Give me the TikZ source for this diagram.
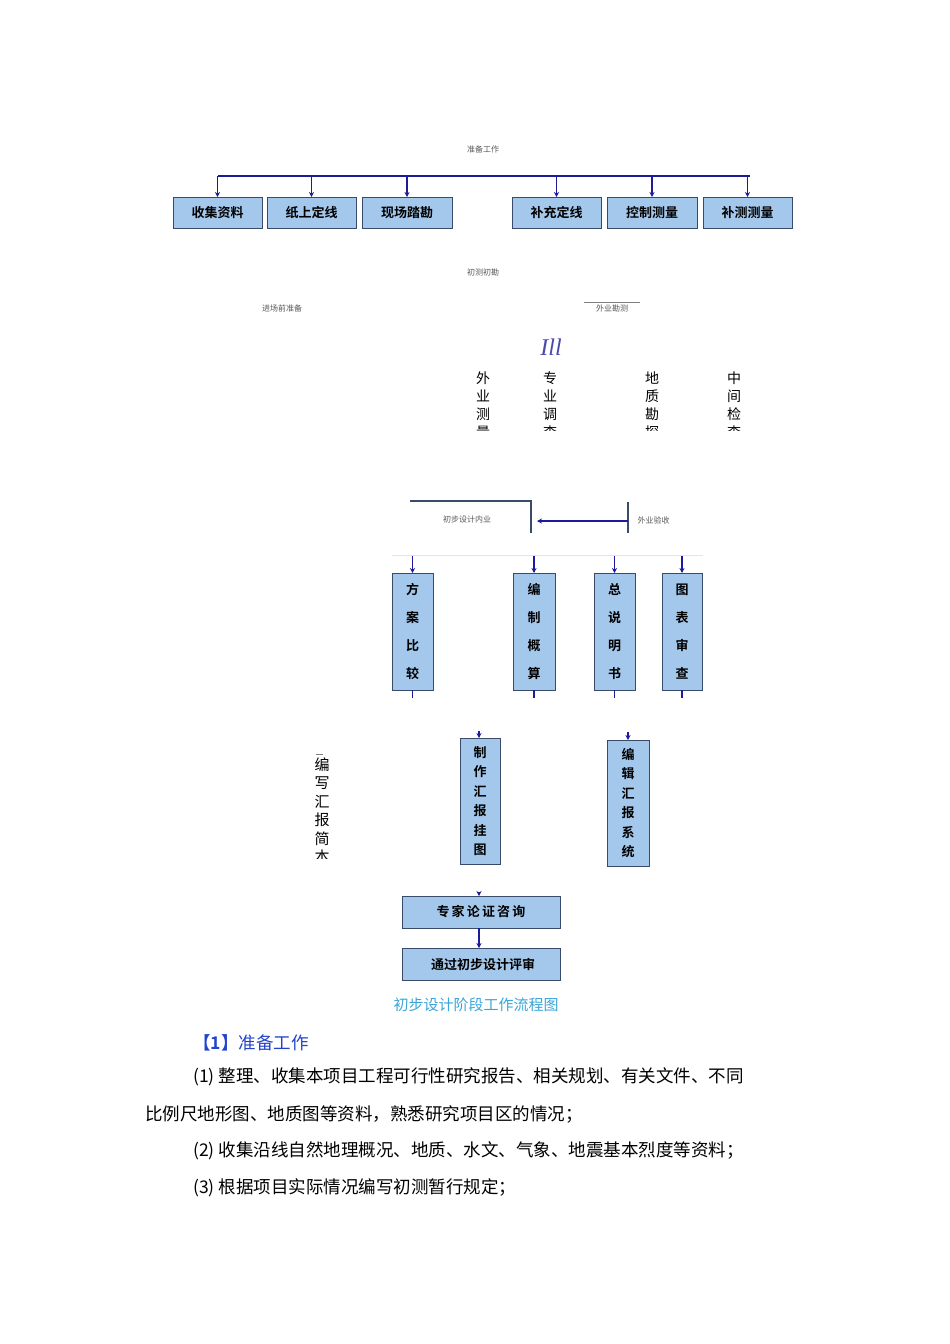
\documentclass[tikz,border=0pt]{standalone}
\usepackage{fontspec}
\usetikzlibrary{arrows.meta}
\setmainfont{Liberation Serif}
\newfontfamily\cjk{Noto Sans CJK SC}
\newfontfamily\cjkb{Noto Sans CJK SC Bold}
\definecolor{boxfill}{HTML}{A3C8EC}
\definecolor{boxline}{HTML}{3A4A6A}
\definecolor{arr}{HTML}{1C1C9A}
\definecolor{cap}{HTML}{3AA6D8}
\definecolor{hd}{HTML}{2244CC}
\begin{document}
\begin{tikzpicture}[x=1pt,y=-1pt,
  bx/.style={draw=boxline,line width=1pt,fill=boxfill,inner sep=0pt},
  btxt/.style={font=\cjkb\fontsize{13}{13}\selectfont},
  vtxt/.style={font=\cjkb\fontsize{13}{28}\selectfont,align=center,text width=14pt},
  ar/.style={draw=arr,line width=1.6pt,-{Stealth[length=5pt,width=5pt]}},
  ln/.style={draw=arr,line width=1.6pt},
  sm/.style={font=\cjk\fontsize{8}{8}\selectfont,text=gray!70!black},
  vt/.style={font=\cjk\fontsize{14}{18}\selectfont,align=center,text width=15pt,anchor=north},
  par/.style={font=\cjk\fontsize{17.5}{17.5}\selectfont,anchor=west,inner sep=0pt}]
\useasboundingbox (0,0) rectangle (950,1344);
\fill[white] (0,0) rectangle (950,1344);
% top
\node[sm] (t1) at (483,149) {准备工作};
\coordinate (hl) at (218,176); \coordinate (hr) at (750,176);
\draw[ln] (hl) -- (hr);
\foreach \n/\a/\b/\t in {b1/173/262/收集资料,b2/267/356/纸上定线,b3/362/452/现场踏勘,b4/512/601/补充定线,b5/607/697/控制测量,b6/703/792/补测测量}{
  \path[bx] (\a,197) rectangle (\b,228);
  \node[btxt] (\n) at ({(\a+\b)/2},212.5) {\t};
  \coordinate (\n t) at ({(\a+\b)/2},176);
  \draw[ar] (\n t) -- ({(\a+\b)/2},197);
}
\node[sm] (t2) at (483,272) {初测初勘};
\node[sm] (t3) at (282,308) {进场前准备};
\node[sm] (t4) at (612,308) {外业勘测};
\draw[gray] (584,302) -- (640,302);
\node[font=\itshape\fontsize{24}{24}\selectfont,text=arr!80] (ill) at (551,347) {Ill};
\begin{scope}
\clip (440,365) rectangle (800,430);
\node[vt] (v1) at (483,368) {外\\业\\测\\量};
\node[vt] (v2) at (550,368) {专\\业\\调\\查};
\node[vt] (v3) at (652,368) {地\\质\\勘\\探};
\node[vt] (v4) at (734,368) {中\\间\\检\\查};
\end{scope}
% middle
\draw[boxline,line width=1.4pt] (410,501) -- (531,501) -- (531,533);
\node[sm] (nb) at (467,519) {初步设计内业};
\draw[boxline,line width=1.4pt] (628,502) -- (628,533);
\coordinate (wy) at (628,521);
\draw[ar] (wy) -- (537,521);
\node[sm,anchor=west] (wy2) at (634,520) {外业验收};
\draw[gray!20,line width=1pt] (392,555) -- (703,555);
\foreach \n/\a/\b/\t in {c1/392/433/{方\\案\\比\\较},c2/513/555/{编\\制\\概\\算},c3/594/635/{总\\说\\明\\书},c4/662/702/{图\\表\\审\\查}}{
  \path[bx] (\a,573) rectangle (\b,690);
  \node[vtxt] (\n) at ({(\a+\b)/2},631.5) {\t};
  \coordinate (\n t) at ({(\a+\b)/2},556);
  \draw[ar] (\n t) -- ({(\a+\b)/2},573);
  \draw[ln] ({(\a+\b)/2},690) -- ({(\a+\b)/2},698);
}
\path[bx] (460,738) rectangle (500,864);
\node[vtxt,font=\cjkb\fontsize{13}{19.5}\selectfont] (d1) at (480,801) {制\\作\\汇\\报\\挂\\图};
\coordinate (d1t) at (479,731);
\draw[ar] (d1t) -- (479,738);
\path[bx] (607,740) rectangle (649,866);
\node[vtxt,font=\cjkb\fontsize{13}{19.5}\selectfont] (d2) at (628,803) {编\\辑\\汇\\报\\系\\统};
\coordinate (d2t) at (628,732);
\draw[ar] (d2t) -- (628,740);
\begin{scope}
\clip (300,752) rectangle (345,858);
\node[vt,font=\cjk\fontsize{15}{18.5}\selectfont] (d3) at (322,754) {编\\写\\汇\\报\\简\\本};
\end{scope}
\draw[gray] (316,754) -- (323,754);
\path[bx] (402,896) rectangle (560,928);
\node[btxt] (e1) at (481,912) {专\,家\,论\,证\,咨\,询};
\path[bx] (402,948) rectangle (560,980);
\node[btxt] (e2) at (483,964) {通过初步设计评审};
\coordinate (e0) at (479,892);
\draw[ar] (e0) -- (479,896);
\draw[ar] (479,928) -- (479,948);
% text
\node[font=\cjk\fontsize{15}{15}\selectfont,text=cap] (capt) at (476,1005) {初步设计阶段工作流程图};
\node[par,text=hd] (h1) at (193,1043) {\cjkb【1】\cjk 准备工作};
\node[par] (p1) at (193,1077) {(1)\ 整理、收集本项目工程可行性研究报告、相关规划、有关文件、不同};
\node[par] (p2) at (145,1114) {比例尺地形图、地质图等资料，熟悉研究项目区的情况；};
\node[par] (p3) at (193,1151) {(2)\ 收集沿线自然地理概况、地质、水文、气象、地震基本烈度等资料；};
\node[par] (p4) at (193,1188) {(3)\ 根据项目实际情况编写初测暂行规定；};
\end{tikzpicture}
\end{document}
